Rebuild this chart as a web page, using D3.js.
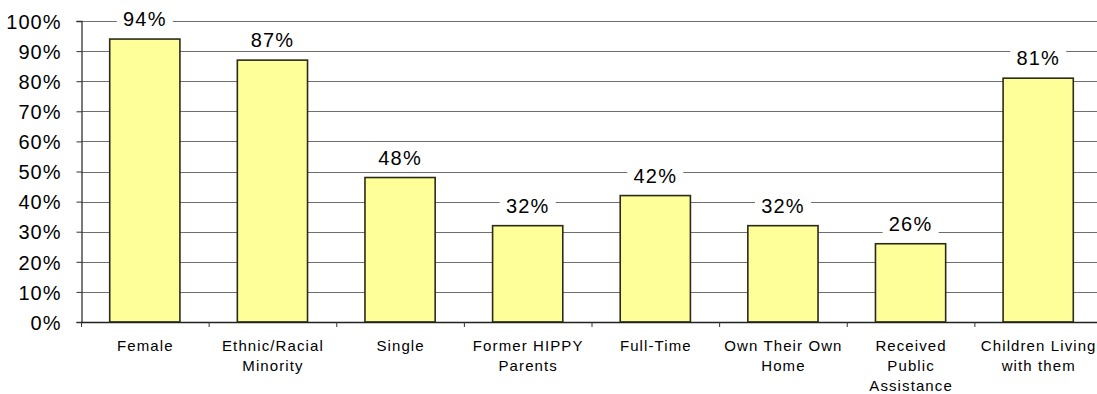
<!DOCTYPE html>
<html><head><meta charset="utf-8">
<script src="https://cdn.jsdelivr.net/npm/d3@7"></script>
<style>
html,body{margin:0;padding:0;background:#fff;}
text{font-family:"Liberation Sans",Arial,sans-serif;fill:#000;}
</style></head>
<body><svg id="c" width="1097" height="394"></svg>
<script>
const categories = [["Female"],["Ethnic/Racial","Minority"],["Single"],["Former HIPPY","Parents"],["Full-Time"],["Own Their Own","Home"],["Received","Public","Assistance"],["Children Living","with them"]];
const values = [94,87,48,32,42,32,26,81];
const yTicks = [0,10,20,30,40,50,60,70,80,90,100];

(function(){
const svg = d3.select("#c");
const mLeft = 81, mRight = 1102, mTop = 21, mBottom = 322;
const x = d3.scaleBand().domain(d3.range(categories.length)).range([mLeft,mRight]).paddingInner(0.45).paddingOuter(0.225);
const xb = d3.scaleLinear().domain([0,categories.length]).range([mLeft,mRight]);
const y = d3.scaleLinear().domain([0,100]).range([mBottom,mTop]);

// gridlines
svg.append("g").selectAll("line").data(yTicks.filter(d=>d>0)).join("line")
  .attr("x1",mLeft).attr("x2",mRight).attr("y1",d=>Math.round(y(d))+0.5).attr("y2",d=>Math.round(y(d))+0.5)
  .attr("stroke","#6e6e6e").attr("stroke-width",1.2);

// y axis
const ya = svg.append("g").attr("transform",`translate(${mLeft+0.5},0)`)
  .call(d3.axisLeft(y).tickValues(yTicks).tickFormat(d=>d+"%").tickSize(5).tickPadding(15));
ya.select(".domain").attr("stroke","#333").attr("stroke-width",1.3);
ya.selectAll(".tick line").attr("stroke","#333");
ya.selectAll(".tick text").attr("font-size","20px").attr("letter-spacing","1px").attr("dy","0.36em").attr("font-family","'Liberation Sans',Arial,sans-serif").attr("fill","#000");

// bars
svg.append("g").selectAll("rect").data(values).join("rect")
  .attr("x",(d,i)=>x(i)).attr("width",x.bandwidth())
  .attr("y",d=>y(d)).attr("height",d=>mBottom-y(d))
  .attr("fill","#ffff99").attr("stroke","#2b2b1a").attr("stroke-width",1.6);

// x axis
svg.append("line").attr("x1",mLeft).attr("x2",mRight).attr("y1",mBottom+0.5).attr("y2",mBottom+0.5).attr("stroke","#222").attr("stroke-width",1.5);
svg.append("g").selectAll("line").data(d3.range(categories.length+1)).join("line")
  .attr("x1",d=>xb(d)+0.5).attr("x2",d=>xb(d)+0.5).attr("y1",mBottom).attr("y2",mBottom+5).attr("stroke","#333");

// category labels
const cl = svg.append("g").selectAll("text").data(categories).join("text")
  .attr("text-anchor","middle").attr("font-size","15px").attr("letter-spacing","1.1px")
  .attr("transform",(d,i)=>`translate(${x(i)+x.bandwidth()/2+0.5},350.5)`);
cl.selectAll("tspan").data(d=>d).join("tspan").attr("x",0).attr("y",(d,j)=>j*20.3).text(d=>d);

// value labels
const vl = svg.append("g").selectAll("g").data(values).join("g")
  .attr("transform",(d,i)=>`translate(${x(i)+x.bandwidth()/2},${y(d)-13})`);
vl.append("rect").attr("x",-28).attr("width",56).attr("y",-19).attr("height",22).attr("fill","#fff");
vl.append("text").attr("text-anchor","middle").attr("font-size","20px").attr("letter-spacing","1.2px").text(d=>d+"%");
})();
</script></body></html>
